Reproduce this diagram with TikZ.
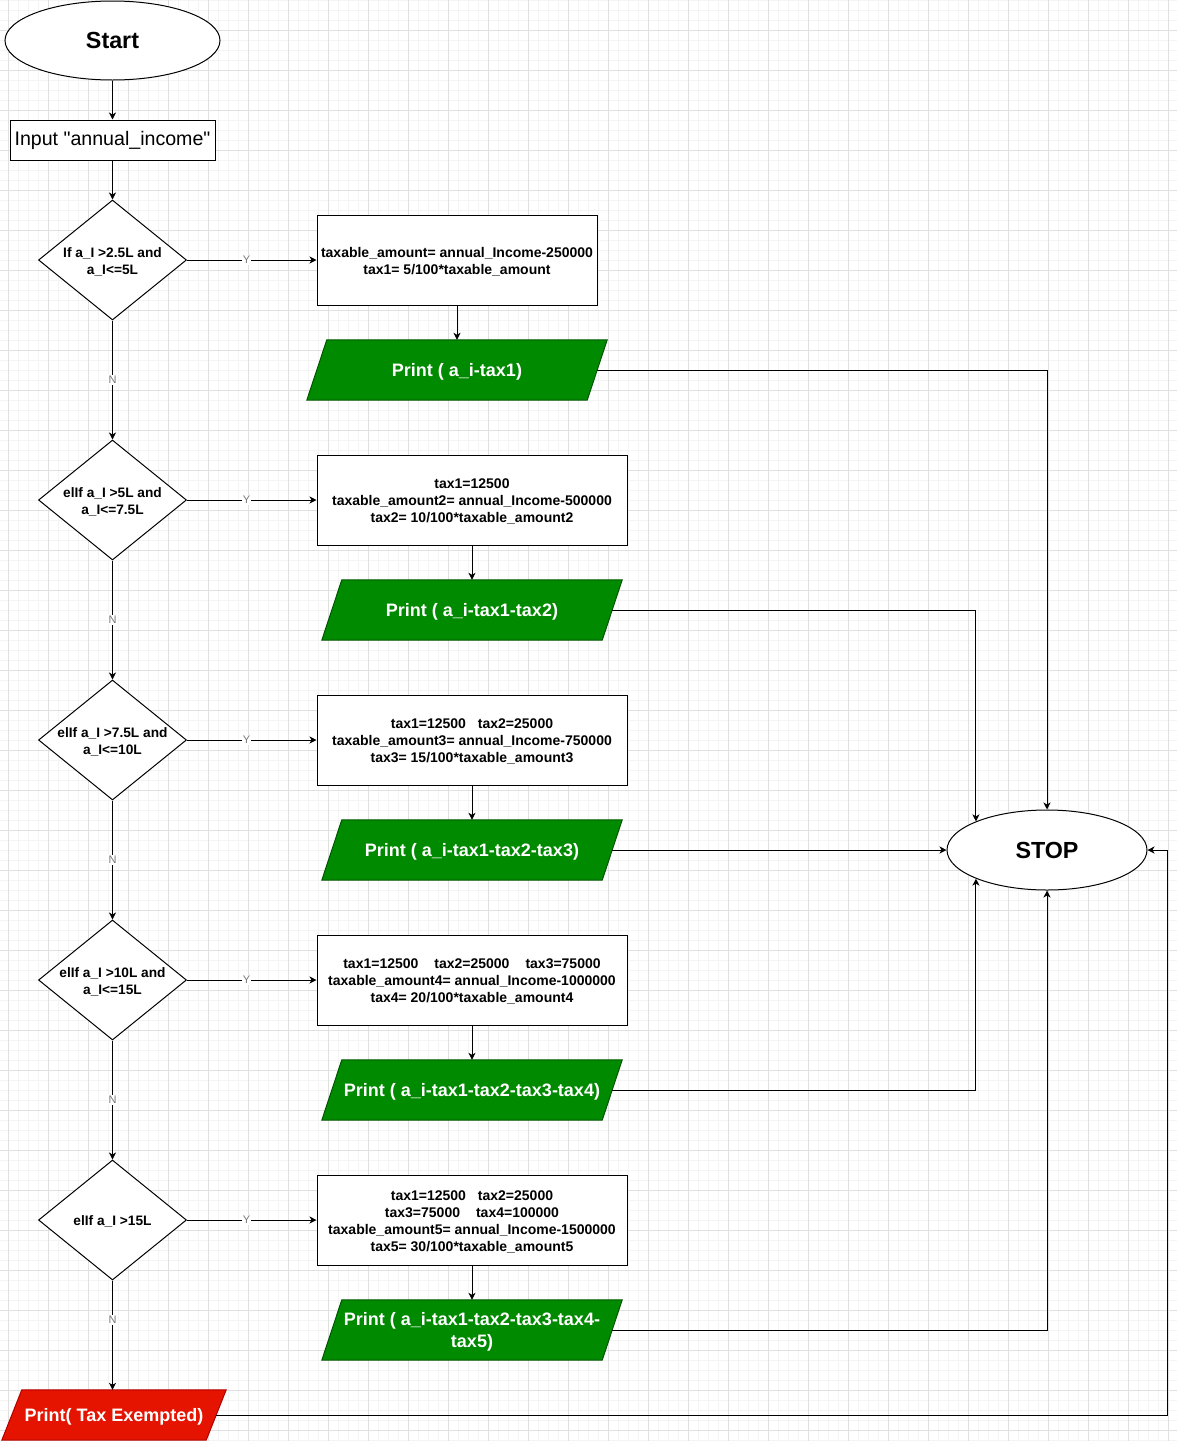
\documentclass[tikz,border=0pt]{standalone}
\usepackage{fontspec}
\setmainfont{Liberation Sans}
% a second handle on the same family, without TeX quote ligatures
\newfontfamily\plainsans{Liberation Sans}
\usetikzlibrary{shapes.geometric,arrows.meta}

\definecolor{gridminor}{HTML}{F4F4F4}
\definecolor{gridmajor}{HTML}{E0E0E0}
\definecolor{okgreen}{HTML}{008A00}
\definecolor{okgreenline}{HTML}{005700}
\definecolor{exred}{HTML}{E51400}
\definecolor{exredline}{HTML}{B20000}
\definecolor{lbl}{HTML}{777777}

\pgfdeclarelayer{grid}
\pgfdeclarelayer{shapes}
\pgfsetlayers{grid,shapes,main}

\tikzset{
  terminal/.style={ellipse, draw, fill=white, line width=1pt, minimum width=215pt,
    minimum height=79pt, inner sep=0pt, font=\fontsize{23.3}{28}\selectfont\bfseries},
  inbox/.style={rectangle, draw, fill=white, line width=1pt, minimum width=205pt,
    minimum height=40pt, inner sep=0pt, font=\plainsans\fontsize{19.6}{23}\selectfont},
  decision/.style={diamond, draw, fill=white, line width=1pt, minimum width=148pt,
    minimum height=120pt, inner sep=0pt},
  calcbox/.style={rectangle, draw, fill=white, line width=1pt, minimum height=90pt,
    inner sep=0pt},
  iobox/.style={rectangle, inner sep=0pt, minimum width=280pt, minimum height=60pt},
  dectext/.style={font=\fontsize{13.7}{17}\selectfont\bfseries, align=center,
    inner sep=0pt, yshift=-1.5pt},
  calctext/.style={font=\fontsize{14}{17}\selectfont\bfseries, align=center,
    inner sep=0pt, yshift=-1.5pt},
  iotext/.style={text=white, font=\fontsize{18}{21.5}\selectfont\bfseries, align=center,
    inner sep=0pt, yshift=-2pt},
  okfill/.style={draw=okgreenline, fill=okgreen, line width=1pt},
  exfill/.style={draw=exredline, fill=exred, line width=1pt},
  flow/.style={line width=1pt, -{Stealth[length=7pt,width=7pt,inset=2pt]}},
  yn/.style={fill=white, text=lbl, inner sep=1pt, font=\fontsize{11}{13}\selectfont},
}

\begin{document}
\begin{tikzpicture}[x=1pt,y=-1pt]
\useasboundingbox (0,0) rectangle (1177,1441);

% background grid
\begin{pgfonlayer}{grid}
\fill[white] (0,0) rectangle (1177,1441);
\foreach \gx in {8,18,...,1177} \draw[gridminor,line width=1pt] (\gx,0) -- (\gx,1441);
\foreach \gy in {0,10,...,1441} \draw[gridminor,line width=1pt] (0,\gy) -- (1177,\gy);
\foreach \gx in {8,48,...,1177} \draw[gridmajor,line width=1pt] (\gx,0) -- (\gx,1441);
\foreach \gy in {30,70,...,1441} \draw[gridmajor,line width=1pt] (0,\gy) -- (1177,\gy);
\end{pgfonlayer}

% left column
\node[terminal] (start) at (112.5,40.5) {Start};
\node[inbox] (input) at (112.5,140) {Input "annual\_income"};
\node[decision, label={[dectext]center:{If a\_I >2.5L and\\a\_I<=5L}}] (d1) at (112.5,260) {};
\node[decision, label={[dectext]center:{elIf a\_I >5L and\\a\_I<=7.5L}}] (d2) at (112.5,500) {};
\node[decision, label={[dectext]center:{elIf a\_I >7.5L and\\a\_I<=10L}}] (d3) at (112.5,740) {};
\node[decision, label={[dectext]center:{elIf a\_I >10L and\\a\_I<=15L}}] (d4) at (112.5,980) {};
\node[decision, label={[dectext]center:{elIf a\_I >15L}}] (d5) at (112.5,1220) {};
\node[iobox, minimum width=204pt, minimum height=50pt,
  label={[iotext]center:{Print( Tax Exempted)}}] (ex) at (114,1415) {};

% calculation boxes
\node[calcbox, minimum width=280pt, label={[calctext]center:{taxable\_amount= annual\_Income-250000\\tax1= 5/100*taxable\_amount}}] (b1) at (457,260) {};
\node[calcbox, minimum width=310pt, label={[calctext]center:{tax1=12500\\taxable\_amount2= annual\_Income-500000\\tax2= 10/100*taxable\_amount2}}] (b2) at (472,500) {};
\node[calcbox, minimum width=310pt, label={[calctext]center:{tax1=12500\hspace{12pt}tax2=25000\\taxable\_amount3= annual\_Income-750000\\tax3= 15/100*taxable\_amount3}}] (b3) at (472,740) {};
\node[calcbox, minimum width=310pt, label={[calctext]center:{tax1=12500\hspace{16pt}tax2=25000\hspace{16pt}tax3=75000\\taxable\_amount4= annual\_Income-1000000\\tax4= 20/100*taxable\_amount4}}] (b4) at (472,980) {};
\node[calcbox, minimum width=310pt, label={[calctext]center:{tax1=12500\hspace{12pt}tax2=25000\\tax3=75000\hspace{16pt}tax4=100000\\taxable\_amount5= annual\_Income-1500000\\tax5= 30/100*taxable\_amount5}}] (b5) at (472,1220) {};

% outputs
\node[iobox, label={[iotext]center:{Print ( a\_i-tax1)}}] (p1) at (457,370) {};
\node[iobox, label={[iotext]center:{Print ( a\_i-tax1-tax2)}}] (p2) at (472,610) {};
\node[iobox, label={[iotext]center:{Print ( a\_i-tax1-tax2-tax3)}}] (p3) at (472,850) {};
\node[iobox, label={[iotext]center:{Print ( a\_i-tax1-tax2-tax3-tax4)}}] (p4) at (472,1090) {};
\node[iobox, label={[iotext]center:{Print ( a\_i-tax1-tax2-tax3-tax4-\\tax5)}}] (p5) at (472,1330) {};

% parallelogram outlines behind the output texts
\begin{pgfonlayer}{shapes}
\foreach \n in {p1,p2,p3,p4,p5}
  \path[okfill] ([xshift=10pt]\n.north west) -- ([xshift=10pt]\n.north east)
    -- ([xshift=-10pt]\n.south east) -- ([xshift=-10pt]\n.south west) -- cycle;
\path[exfill] ([xshift=10pt]ex.north west) -- ([xshift=10pt]ex.north east)
    -- ([xshift=-10pt]ex.south east) -- ([xshift=-10pt]ex.south west) -- cycle;
\end{pgfonlayer}

\node[terminal, minimum width=200pt, minimum height=80pt] (stop) at (1047,850) {STOP};
\coordinate (loop) at (1167,850);

% connectors
\draw[flow] (start) -- (input);
\draw[flow] (input) -- (d1);
\foreach \a/\b in {d1/d2,d2/d3,d3/d4,d4/d5}
  \draw[flow] (\a.south) -- node[yn] {N} (\b.north);
\draw[flow] (d5.south) -- node[yn, pos=0.36] {N} (d5.south |- ex.north);
\foreach \i in {1,...,5}{
  \draw[flow] (d\i.east) -- node[yn, pos=0.46] {Y} (b\i.west);
  \draw[flow] (b\i.south) -- (p\i.north);
}
\draw[flow] (p1.east) -| (stop.north);
\draw[flow] (p2.east) -| (stop.north west);
\draw[flow] (p3.east) -- (stop.west);
\draw[flow] (p4.east) -| (stop.south west);
\draw[flow] (p5.east) -| (stop.south);
\draw[flow] (ex.east) -| (loop) -- (stop.east);
\end{tikzpicture}
\end{document}
